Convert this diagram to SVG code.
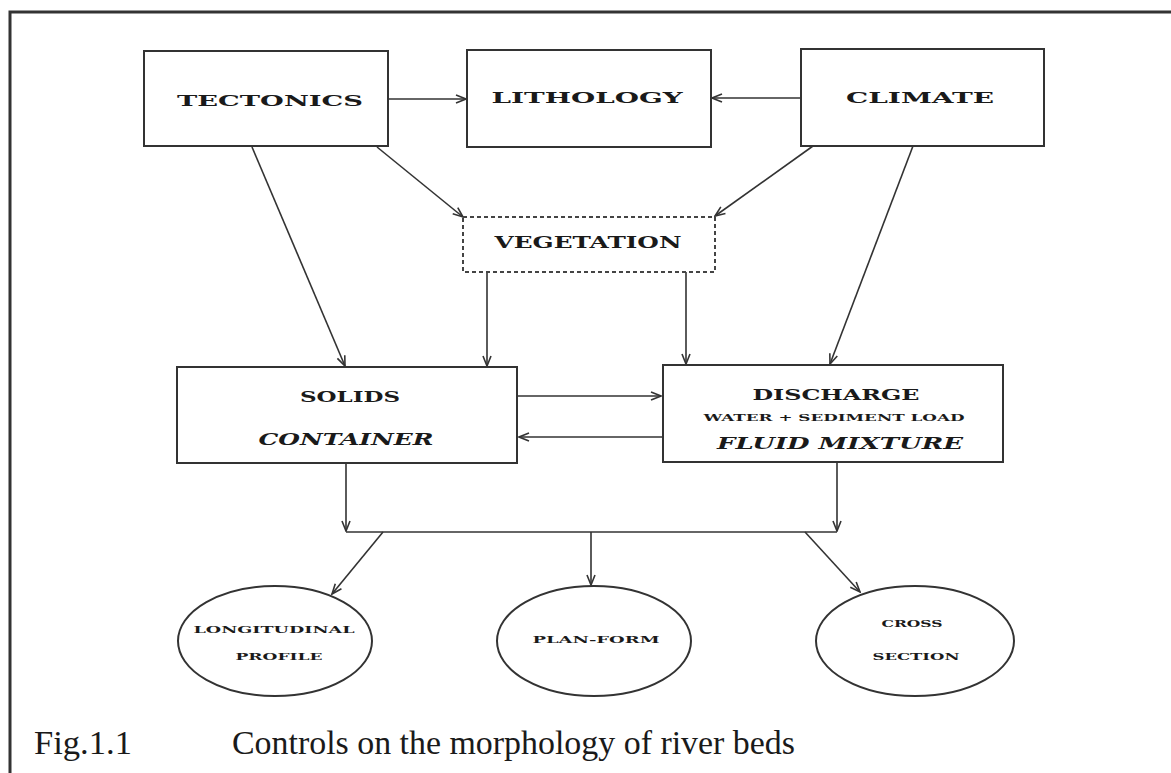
<svg xmlns="http://www.w3.org/2000/svg" width="1171" height="773" viewBox="0 0 1171 773">
<style>
.box{fill:none;stroke:#333;stroke-width:2}
.dash{fill:none;stroke:#444;stroke-width:2;stroke-dasharray:4,3}
.ell{fill:none;stroke:#333;stroke-width:2}
.lbl{font-family:"DejaVu Serif","Liberation Serif",serif;font-weight:bold;fill:#1a1a1a;text-anchor:middle}
.it{font-style:italic}
.cap{font-family:"Liberation Serif","Times New Roman",serif;fill:#1a1a1a}
.con line,.con path{stroke:#333;stroke-width:1.6;fill:none}
</style>
<defs>
<marker id="ah" markerWidth="12" markerHeight="10" refX="11" refY="5" orient="auto" markerUnits="userSpaceOnUse">
<path d="M1,1 L11,5 L1,9" fill="none" stroke="#333" stroke-width="1.6"/>
</marker>
</defs>
<rect width="1171" height="773" fill="#fff"/>
<path d="M10,773 V12 H1171" fill="none" stroke="#333" stroke-width="3"/>

<g class="con">
<line x1="389" y1="99" x2="466" y2="99" marker-end="url(#ah)"/>
<line x1="800" y1="98" x2="712" y2="98" marker-end="url(#ah)"/>
<line x1="377" y1="147" x2="463" y2="217" marker-end="url(#ah)"/>
<line x1="813" y1="146" x2="715" y2="216" marker-end="url(#ah)"/>
<line x1="252" y1="147" x2="345" y2="366" marker-end="url(#ah)"/>
<line x1="487" y1="272" x2="487" y2="366" marker-end="url(#ah)"/>
<line x1="686" y1="272" x2="686" y2="364" marker-end="url(#ah)"/>
<line x1="913" y1="146" x2="830" y2="364" marker-end="url(#ah)"/>
<line x1="518" y1="396" x2="661" y2="396" marker-end="url(#ah)"/>
<line x1="662" y1="437" x2="519" y2="437" marker-end="url(#ah)"/>
<line x1="346" y1="463" x2="346" y2="531" marker-end="url(#ah)"/>
<line x1="837" y1="462" x2="837" y2="531" marker-end="url(#ah)"/>
<line x1="346" y1="532" x2="837" y2="532"/>
<line x1="383" y1="532" x2="332" y2="594" marker-end="url(#ah)"/>
<line x1="591" y1="532" x2="591" y2="585" marker-end="url(#ah)"/>
<line x1="805" y1="532" x2="860" y2="592" marker-end="url(#ah)"/>
</g>

<g id="tectonics">
<rect class="box" x="144" y="51" width="244" height="95"/>
<text class="lbl" x="270" y="106" font-size="15" textLength="186" lengthAdjust="spacingAndGlyphs">TECTONICS</text>
</g>
<g id="lithology">
<rect class="box" x="467" y="50" width="244" height="97"/>
<text class="lbl" x="587" y="103" font-size="15" textLength="191" lengthAdjust="spacingAndGlyphs">LITHOLOGY</text>
</g>
<g id="climate">
<rect class="box" x="801" y="49" width="243" height="97"/>
<text class="lbl" x="920" y="103" font-size="15" textLength="148" lengthAdjust="spacingAndGlyphs">CLIMATE</text>
</g>
<g id="vegetation">
<rect class="dash" x="463" y="217" width="252" height="55"/>
<text class="lbl" x="588" y="248" font-size="17" textLength="187" lengthAdjust="spacingAndGlyphs">VEGETATION</text>
</g>
<g id="solids">
<rect class="box" x="177" y="367" width="340" height="96"/>
<text class="lbl" x="350" y="402" font-size="14" textLength="100" lengthAdjust="spacingAndGlyphs">SOLIDS</text>
<text class="lbl it" x="346" y="445" font-size="16" textLength="175" lengthAdjust="spacingAndGlyphs">CONTAINER</text>
</g>
<g id="discharge">
<rect class="box" x="663" y="365" width="340" height="97"/>
<text class="lbl" x="836" y="400" font-size="15" textLength="167" lengthAdjust="spacingAndGlyphs">DISCHARGE</text>
<text class="lbl" x="834" y="421" font-size="10" textLength="261" lengthAdjust="spacingAndGlyphs">WATER + SEDIMENT LOAD</text>
<text class="lbl it" x="840" y="449" font-size="16" textLength="246" lengthAdjust="spacingAndGlyphs">FLUID MIXTURE</text>
</g>
<g id="longitudinal">
<ellipse class="ell" cx="275" cy="641" rx="97" ry="55"/>
<text class="lbl" x="274" y="633" font-size="10" textLength="161" lengthAdjust="spacingAndGlyphs">LONGITUDINAL</text>
<text class="lbl" x="279" y="660" font-size="10" textLength="87" lengthAdjust="spacingAndGlyphs">PROFILE</text>
</g>
<g id="planform">
<ellipse class="ell" cx="594" cy="641" rx="97" ry="55"/>
<text class="lbl" x="596" y="643" font-size="10" textLength="127" lengthAdjust="spacingAndGlyphs">PLAN-FORM</text>
</g>
<g id="cross">
<ellipse class="ell" cx="915" cy="641" rx="99" ry="55"/>
<text class="lbl" x="912" y="627" font-size="10" textLength="61" lengthAdjust="spacingAndGlyphs">CROSS</text>
<text class="lbl" x="916" y="660" font-size="10" textLength="87" lengthAdjust="spacingAndGlyphs">SECTION</text>
</g>
<g id="caption">
<text class="cap" x="34" y="754" font-size="33" textLength="98" lengthAdjust="spacingAndGlyphs">Fig.1.1</text>
<text class="cap" x="232" y="754" font-size="33" textLength="563" lengthAdjust="spacingAndGlyphs">Controls on the morphology of river beds</text>
</g>
</svg>
